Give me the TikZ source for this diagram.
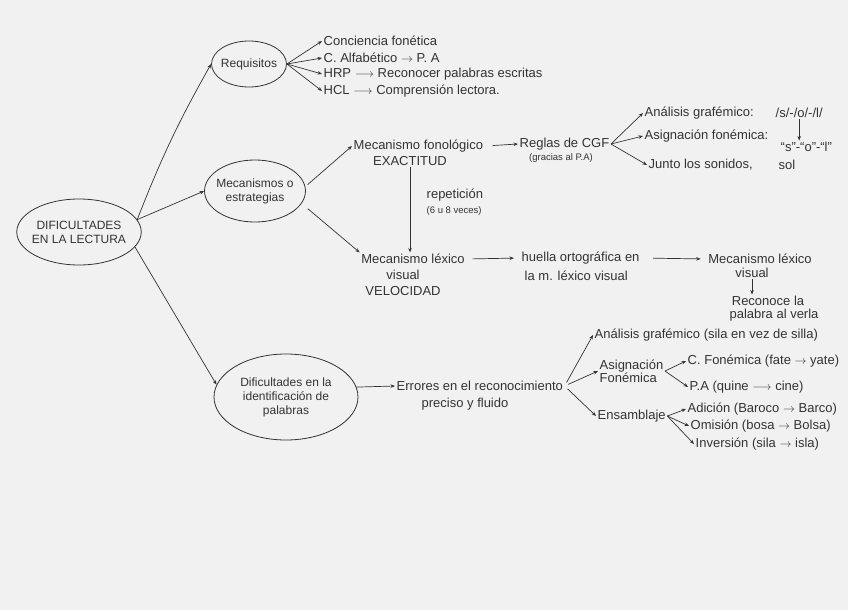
\documentclass[tikz,border=0pt]{standalone}
\usepackage{fontspec}
\setmainfont{Liberation Sans}
\usetikzlibrary{shapes.geometric,arrows.meta}
\definecolor{ink}{HTML}{333333}
\definecolor{paper}{HTML}{F1F1F1}
\begin{document}
\begin{tikzpicture}[x=1pt,y=-1pt,
  every node/.style={font=\fontsize{13}{15}\selectfont, text=ink, inner sep=1.5pt},
  small/.style={font=\fontsize{9.5}{11}\selectfont},
  bubble/.style={draw=ink, ellipse, line width=0.8pt, align=center, inner sep=-3pt, font=\fontsize{12}{14}\selectfont},
  lbl/.style={anchor=west},
  link/.style={draw=ink, line width=0.7pt, -{Stealth[length=4.5pt,width=3.5pt]}}]
\fill[paper] (0,0) rectangle (848,610);
\useasboundingbox (0,0) rectangle (848,610);

% bubbles
\node[bubble, minimum width=121pt, minimum height=66pt] (main) at (79,232) {DIFICULTADES\\EN LA LECTURA};
\node[bubble, minimum width=75pt, minimum height=46pt] (req) at (249,64) {Requisitos};
\node[bubble, minimum width=100pt, minimum height=62pt] (mec) at (255,191) {Mecanismos o\\estrategias};
\node[bubble, minimum width=144pt, minimum height=86pt] (dif) at (286,397) {Dificultades en la\\identificación de\\palabras};

\draw[link] (main.12) to[bend left=4] (req.west);
\draw[link] (main.12) -- (mec.west);
\draw[link] (main.-15) -- (dif.170);

% requisitos
\node[lbl] (cf) at (322,41) {Conciencia fonética};
\node[lbl] (ca) at (322,58) {C. Alfabético $\rightarrow$ P. A};
\node[lbl] (hrp) at (322,74) {HRP $\longrightarrow$ Reconocer palabras escritas};
\node[lbl] (hcl) at (322,91) {HCL $\longrightarrow$ Comprensión lectora.};
\foreach \t in {cf,ca,hrp,hcl} \draw[link] (req.east) -- (\t.west);

% mecanismo fonologico
\node[lbl] (fon) at (352,146) {Mecanismo fonológico};
\node (exa) at (410,161) {EXACTITUD};
\node[lbl] (rcgf) at (518,144) {Reglas de CGF};
\node[small] (grac) at (561,158) {(gracias al P.A)};
\draw[link, shorten <=3pt] (mec.5) -- (fon.west);
\draw[link, shorten <=8pt] (fon.east) -- (rcgf.west);

\node[lbl] (agr) at (643,113) {Análisis grafémico:};
\node[lbl] (sol1) at (774,113) {/s/-/o/-/l/};
\node[lbl] (asf) at (643,136) {Asignación fonémica:};
\node[lbl] (sol2) at (779,147) {``s''-``o''-``l''};
\node[lbl] (jun) at (647,165) {Junto los sonidos,};
\node[lbl] (sol3) at (777,165) {sol};
\foreach \t in {agr,asf,jun} \draw[link] (rcgf.east) -- (\t.west);
\draw[link] (sol1.south) -- (sol1.south |- sol2.north);

% repeticion
\node[lbl] (rep) at (425,195) {repetición};
\node[lbl, small] (rep2) at (425,211) {(6 u 8 veces)};

% mecanismo lexico
\node (lexa) at (413,259) {Mecanismo léxico};
\node (lexb) at (403,275) {visual};
\node (lexc) at (403,291) {VELOCIDAD};
\draw[link] (exa.south) -- (exa.south |- lexa.north);
\draw[link, shorten <=8pt] (mec.-15) -- (lexa.north west);

\node[lbl] (hue1) at (520,258) {huella ortográfica en};
\node[lbl] (hue2) at (523,276) {la m. léxico visual};
\draw[link, shorten <=6pt, shorten >=6pt] (lexa.east) -- (hue1.west);

\node (mlv1) at (760,259) {Mecanismo léxico};
\node (mlv2) at (752,273) {visual};
\node (rec1) at (768,301) {Reconoce la};
\node (rec2) at (774,315) {palabra al verla};
\draw[link, shorten <=12pt, shorten >=6pt] (hue1.east) -- (mlv1.west);
\draw[link] (mlv2.south) -- (mlv2.south |- rec1.north);

% dificultades identificacion
\node[lbl] (err1) at (395,386) {Errores en el reconocimiento};
\node (err2) at (465,404) {preciso y fluido};
\draw[link] (dif.8) -- (err1.west);

\node[lbl] (ag) at (593,335) {Análisis grafémico (sila en vez de silla)};
\node[lbl, align=left, font=\fontsize{13}{13}\selectfont] (asg) at (598,371) {Asignación\\Fonémica};
\node[lbl] (ens) at (596,416) {Ensamblaje};
\foreach \t in {ag,asg,ens} \draw[link, shorten <=4pt] (err1.east) -- (\t.west);

\node[lbl] (cfon) at (686,361) {C. Fonémica (fate $\rightarrow$ yate)};
\node[lbl] (pa) at (688,387) {P.A (quine $\longrightarrow$ cine)};
\foreach \t in {cfon,pa} \draw[link] (asg.east) -- (\t.west);

\node[lbl] (adi) at (686,409) {Adición (Baroco $\rightarrow$ Barco)};
\node[lbl] (omi) at (689,426) {Omisión (bosa $\rightarrow$ Bolsa)};
\node[lbl] (inv) at (694,444) {Inversión (sila $\rightarrow$ isla)};
\foreach \t in {adi,omi,inv} \draw[link] (ens.east) -- (\t.west);
\end{tikzpicture}
\end{document}
